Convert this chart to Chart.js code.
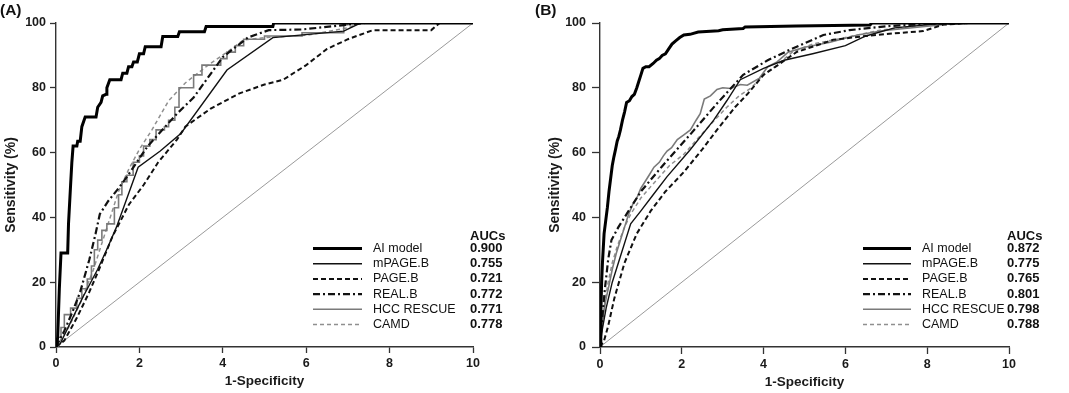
<!DOCTYPE html>
<html>
<head>
<meta charset="utf-8">
<script src="https://cdn.jsdelivr.net/npm/chart.js@4.4.1/dist/chart.umd.min.js"></script>
<style>
  html, body { margin: 0; padding: 0; background: #fff; }
  #wrap { position: relative; width: 1069px; height: 393px; overflow: hidden; }
  canvas { position: absolute; top: 0; }
</style>
</head>
<body>
<div id="wrap">
  <canvas id="chartA" width="530" height="393" style="left:0"></canvas>
  <canvas id="chartB" width="539" height="393" style="left:530px"></canvas>
</div>
<script>
const xTicks = [0, 2, 4, 6, 8, 10];
const yTicks = [0, 20, 40, 60, 80, 100];
const models = ["AI model", "mPAGE.B", "PAGE.B", "REAL.B", "HCC RESCUE", "CAMD"];
const aucA = ["0.900", "0.755", "0.721", "0.772", "0.771", "0.778"];
const aucB = ["0.872", "0.775", "0.765", "0.801", "0.798", "0.788"];
const chance = [[0, 0], [10, 100]];

// panel A curves, [1-specificity, sensitivity]
const aiA = [[0,0],[0.04,3],[0.08,18],[0.12,29],[0.28,29],[0.3,38],[0.35,50],[0.38,57],[0.41,62],[0.5,62],[0.52,63.5],[0.58,63.5],[0.62,68],[0.7,71],[0.96,71],[1.0,74],[1.08,75.5],[1.12,77.5],[1.2,78],[1.22,80],[1.29,82.5],[1.56,82.5],[1.6,84.5],[1.7,84.5],[1.74,86.5],[1.82,86.5],[1.86,88],[1.95,88],[2.0,90.5],[2.1,90.5],[2.14,92.7],[2.52,92.7],[2.56,95.8],[2.92,95.8],[2.96,97.3],[3.56,97.3],[3.6,98.9],[5.2,98.9],[5.22,100],[10,100]];
const mpageA = [[0,0],[0.1,1],[0.4,9],[0.65,15.5],[1.0,24],[1.25,31],[1.45,37],[1.97,55.5],[2.5,60.5],[3.0,66],[4.1,85.5],[5.2,95.5],[6.9,97.5],[7.3,100],[10,100]];
const pageA = [[0,0],[0.2,2],[0.5,9],[0.8,17],[1.05,24.5],[1.35,34],[1.75,44],[2.1,50],[2.45,57],[2.9,64],[3.1,68],[3.7,73.5],[4.4,78.3],[5.0,81],[5.45,82.5],[6.0,87],[6.5,92],[7.0,95],[7.6,97.8],[9.0,97.8],[9.2,100],[10,100]];
const realA = [[0,0],[0.2,5],[0.4,11],[0.58,17],[0.8,27],[0.95,35],[1.05,41],[1.25,45],[1.5,49],[1.7,52.5],[2.2,62],[2.9,72],[3.3,77],[4.0,89.5],[4.6,95.5],[5.1,97.8],[5.9,98],[7.0,99.5],[7.4,100],[10,100]];
const hccA = [[0,0],[0.05,0],[0.05,3],[0.12,3],[0.12,6],[0.2,6],[0.2,10],[0.35,10],[0.35,12],[0.5,12],[0.5,15],[0.62,15],[0.62,18],[0.75,18],[0.75,21],[0.85,21],[0.85,25],[0.92,25],[0.92,30],[1.0,30],[1.0,33],[1.1,33],[1.1,36],[1.22,36],[1.22,38],[1.4,38],[1.4,43],[1.5,43],[1.5,47],[1.58,47],[1.58,51],[1.7,51],[1.7,53],[1.85,53],[1.85,57],[2.0,57],[2.0,59],[2.1,59],[2.1,62],[2.25,62],[2.25,64],[2.4,64],[2.4,67],[2.6,67],[2.6,68],[2.7,68],[2.7,70],[2.85,70],[2.85,74],[2.95,74],[2.95,80],[3.3,80],[3.3,84],[3.5,84],[3.5,87],[3.95,87],[3.95,89],[4.1,89],[4.1,91],[4.3,91],[4.3,93],[4.5,93],[4.5,95],[5.0,95],[5.0,96],[5.9,96],[5.9,97],[6.9,97],[6.9,99.5],[7.0,99.5],[7.0,100],[10,100]];
const camdA = [[0,0],[0.3,6],[0.6,14],[0.9,24],[1.1,32],[1.3,40],[1.5,48],[1.75,55],[2.0,61],[2.3,67],[2.7,76],[3.1,81.5],[3.7,87.5],[4.1,91],[4.5,94.8],[5.0,95.5],[6.0,96.2],[7.0,98.5],[7.3,100],[10,100]];

// panel B curves
const aiB = [[0,0],[0.02,10],[0.04,20],[0.06,26],[0.1,35],[0.14,39],[0.18,43],[0.22,48],[0.26,52],[0.3,56],[0.34,58.7],[0.38,61],[0.42,63.5],[0.46,65],[0.5,67],[0.55,70],[0.6,72.5],[0.65,75.5],[0.72,76],[0.78,77.3],[0.84,78],[0.9,80],[0.95,82],[1.0,84],[1.05,86],[1.12,86.5],[1.2,86.5],[1.3,87.5],[1.38,88.5],[1.45,89],[1.52,90],[1.6,90.5],[1.68,92],[1.76,93.5],[1.85,94.5],[1.95,95.5],[2.05,96.3],[2.2,96.5],[2.4,97.2],[2.9,97.6],[3.0,97.9],[3.5,98.3],[3.55,98.8],[4.8,99.1],[6.6,99.4],[6.65,100],[10,100]];
const mpageB = [[0,0],[0.05,5],[0.15,12],[0.3,20],[0.5,28],[0.75,38],[1.0,42],[1.3,47],[1.64,52.6],[2.2,60.8],[2.78,70],[3.1,76],[3.43,82.5],[4.0,86],[4.5,88.5],[5.2,90.5],[6.0,93],[6.5,96],[7.2,98.5],[8.3,99.8],[10,100]];
const pageB = [[0,0],[0.1,2],[0.2,6.5],[0.35,15],[0.6,26],[0.9,35],[1.24,42],[1.6,48],[2.05,54],[2.5,61],[2.86,67],[3.3,74],[3.6,78],[4.0,84],[4.35,87],[4.8,91],[5.7,94.8],[6.5,96],[7.2,96.8],[7.9,97.5],[8.4,99.5],[9.0,100],[10,100]];
const realB = [[0,0],[0.05,8],[0.12,18],[0.2,27],[0.28,33],[0.45,37],[0.6,40],[1.0,48],[1.5,55.5],[2.2,65.5],[2.85,75],[3.5,84],[4.1,88.5],[4.6,91.5],[5.46,96.3],[6.1,97.8],[7.0,99],[8.0,99.7],[9.0,100],[10,100]];
const hccB = [[0,0],[0.03,5],[0.08,10],[0.15,15],[0.22,19],[0.3,24],[0.4,29],[0.5,33],[0.6,37],[0.7,41],[0.8,44],[0.9,46],[1.0,49],[1.1,51],[1.2,53],[1.32,55.5],[1.45,57],[1.55,59],[1.64,60.5],[1.75,61.5],[1.89,64],[2.05,65.5],[2.21,67],[2.35,70],[2.45,72],[2.55,76.5],[2.7,77.5],[2.86,79.5],[3.0,80],[3.2,79.8],[3.43,81],[3.6,80.8],[3.9,83],[4.1,86.5],[4.33,88],[4.6,91],[5.0,92.5],[5.6,94],[6.3,96.3],[6.9,97.6],[8.0,99],[8.8,100],[10,100]];
const camdB = [[0,0],[0.05,6],[0.12,14],[0.2,20],[0.3,26],[0.42,31],[0.6,37],[0.75,41],[1.0,46],[1.24,49.5],[1.7,56],[2.05,59.5],[2.4,64.5],[2.8,70],[3.1,74],[3.4,77.5],[3.7,80],[4.0,84],[4.33,87],[4.7,91],[5.2,93.5],[6.0,95.5],[6.85,97.8],[8.0,99.5],[9.0,100],[10,100]];

const FONT = '"Liberation Sans", Arial, sans-serif';
const styles = [
  { color: "#000", width: 3, dash: [] },
  { color: "#111", width: 1.4, dash: [] },
  { color: "#111", width: 2, dash: [5, 3] },
  { color: "#111", width: 2.2, dash: [7, 3, 2, 3] },
  { color: "#7a7a7a", width: 1.6, dash: [] },
  { color: "#8f8f8f", width: 1.5, dash: [4, 3] }
];

const rocLegend = {
  id: "rocLegend",
  afterDraw(chart, args, o) {
    const ctx = chart.ctx;
    ctx.save();
    ctx.fillStyle = "#111";
    ctx.textBaseline = "middle";
    ctx.textAlign = "left";
    ctx.font = "bold 15.5px " + FONT;
    ctx.fillText(o.panel, o.panelX, 11);
    ctx.font = "bold 13px " + FONT;
    ctx.fillText("AUCs", o.aucX, 236.5);
    models.forEach((name, i) => {
      const y = 248.5 + i * 15.2;
      const s = styles[i];
      ctx.strokeStyle = s.color;
      ctx.lineWidth = s.width;
      ctx.setLineDash(s.dash);
      ctx.beginPath();
      ctx.moveTo(o.lineX0, y);
      ctx.lineTo(o.lineX1, y);
      ctx.stroke();
      ctx.setLineDash([]);
      ctx.font = "12.5px " + FONT;
      ctx.fillText(name, o.textX, y);
      ctx.font = "bold 13px " + FONT;
      ctx.fillText(o.auc[i], o.aucX, y);
    });
    ctx.restore();
  }
};

function toPts(arr) {
  return arr.map(p => ({ x: p[0], y: p[1] }));
}

function makeChart(id, curves, cfg) {
  const datasets = curves.map((c, i) => ({
    data: toPts(c),
    borderColor: styles[i].color,
    borderWidth: styles[i].width,
    borderDash: styles[i].dash,
    showLine: true,
    pointRadius: 0,
    tension: 0
  }));
  datasets.push({
    data: toPts(chance),
    borderColor: "#9a9a9a",
    borderWidth: 1,
    showLine: true,
    pointRadius: 0
  });

  return new Chart(document.getElementById(id), {
    type: "scatter",
    data: { datasets: datasets },
    options: {
      responsive: false,
      animation: false,
      devicePixelRatio: 1,
      layout: { padding: { left: 0, top: 23, right: cfg.padRight, bottom: 0 } },
      plugins: {
        legend: { display: false },
        tooltip: { enabled: false },
        rocLegend: cfg.legend
      },
      scales: {
        x: {
          type: "linear",
          min: 0,
          max: 10,
          afterBuildTicks: s => { s.ticks = xTicks.map(v => ({ value: v })); },
          afterFit: s => { s.height = 46; },
          grid: { drawOnChartArea: false, tickLength: cfg.xTick, color: "#333", tickWidth: 1.3 },
          border: { color: "#333", width: 1.4 },
          ticks: { color: "#1a1a1a", padding: 3, font: { family: FONT, size: 12.5, weight: "bold" } },
          title: {
            display: true,
            text: "1-Specificity",
            color: "#1a1a1a",
            padding: { top: 0, bottom: cfg.xTitlePad },
            font: { family: FONT, size: 13.5, weight: "bold" }
          }
        },
        y: {
          min: 0,
          max: 100,
          afterBuildTicks: s => { s.ticks = yTicks.map(v => ({ value: v })); },
          afterFit: s => { s.width = cfg.yWidth; },
          grid: { drawOnChartArea: false, tickLength: cfg.yTick, color: "#333", tickWidth: 1.3 },
          border: { color: "#333", width: 1.4 },
          ticks: { color: "#1a1a1a", padding: cfg.yTickPad, font: { family: FONT, size: 12.5, weight: "bold" } },
          title: {
            display: true,
            text: "Sensitivity (%)",
            color: "#1a1a1a",
            padding: { top: cfg.yTitlePad, bottom: 0 },
            font: { family: FONT, size: 14, weight: "bold" }
          }
        }
      }
    },
    plugins: [rocLegend]
  });
}

makeChart("chartA", [aiA, mpageA, pageA, realA, hccA, camdA], {
  padRight: 57, yWidth: 56, xTick: 6, yTick: 6, yTickPad: 4, yTitlePad: 3, xTitlePad: 4,
  legend: { panel: "(A)", panelX: 0, lineX0: 313, lineX1: 362, textX: 373, aucX: 470, auc: aucA }
});

makeChart("chartB", [aiB, mpageB, pageB, realB, hccB, camdB], {
  padRight: 60, yWidth: 70, xTick: 7, yTick: 8, yTickPad: 6, yTitlePad: 17, xTitlePad: 3,
  legend: { panel: "(B)", panelX: 5, lineX0: 333, lineX1: 381, textX: 392, aucX: 477, auc: aucB }
});
</script>
</body>
</html>
